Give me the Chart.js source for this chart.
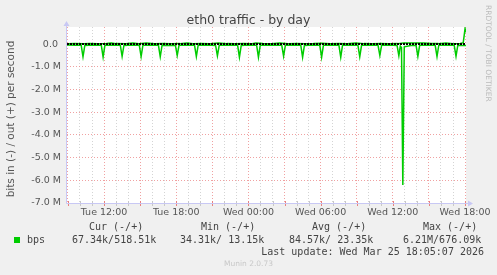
<!DOCTYPE html>
<html>
<head>
<meta charset="utf-8">
<title>eth0 traffic - by day</title>
<script src="https://cdn.jsdelivr.net/npm/chart.js@4.4.1/dist/chart.umd.min.js"></script>
<style>
  body { margin: 0; background: #f0f0f0; }
  canvas { display: block; }
</style>
</head>
<body>
<canvas id="trafficChart" width="497" height="275"></canvas>
<script>
// time axis is in hours since Tue 00:00
const xTickHours = [12, 18, 24, 30, 36, 42];
const xTickLabels = ["Tue 12:00", "Tue 18:00", "Wed 00:00", "Wed 06:00", "Wed 12:00", "Wed 18:00"];

// in (drawn negative), bits per second
const inTimes = [
  8.92, 9.6, 10.1, 10.25, 10.4, 11.0, 11.77, 11.92, 12.07, 12.8,
  13.35, 13.5, 13.65, 14.3, 14.93, 15.08, 15.23, 15.9, 16.52, 16.67,
  16.82, 17.93, 18.08, 18.23, 18.9, 19.52, 19.67, 19.82, 20.6, 21.27,
  21.42, 21.57, 22.3, 23.1, 23.25, 23.4, 24.0, 24.68, 24.83, 24.98,
  25.9, 26.77, 26.92, 27.07, 27.7, 28.35, 28.5, 28.65, 29.3, 29.93,
  30.08, 30.23, 30.9, 31.52, 31.67, 31.82, 32.5, 33.1, 33.25, 33.4,
  34.1, 34.77, 34.92, 35.07, 35.7, 36.35, 36.5, 36.62, 36.72, 36.83,
  36.95, 37.5, 37.93, 38.08, 38.23, 38.9, 39.52, 39.67, 39.82, 40.5,
  41.1, 41.25, 41.4, 41.8, 42.08
];
const inValues = [
  -45000, -50000, -55000, -560000, -60000, -45000, -50000, -570000, -55000, -40000,
  -50000, -540000, -60000, -45000, -55000, -550000, -50000, -40000, -55000, -560000,
  -50000, -60000, -500000, -55000, -45000, -55000, -550000, -50000, -40000, -60000,
  -520000, -55000, -45000, -55000, -580000, -60000, -45000, -55000, -580000, -50000,
  -40000, -55000, -530000, -50000, -45000, -55000, -580000, -60000, -40000, -55000,
  -580000, -55000, -45000, -55000, -580000, -50000, -40000, -55000, -560000, -55000,
  -45000, -55000, -500000, -50000, -45000, -60000, -520000, -90000, -150000, -6210000,
  -120000, -60000, -55000, -540000, -55000, -45000, -55000, -550000, -50000, -45000,
  -55000, -545000, -50000, -60000, -67340
];

// out (drawn positive), bits per second
const outTimes = [
  8.92, 9.6, 10.3, 10.8, 11.5, 12.2, 12.6, 13.0, 13.8, 14.4,
  14.9, 15.5, 16.2, 16.9, 17.6, 18.3, 18.9, 19.4, 20.1, 20.8,
  21.5, 22.2, 22.9, 23.6, 24.3, 24.6, 25.2, 25.9, 26.6, 27.3,
  28.0, 28.7, 29.4, 30.1, 30.8, 31.5, 32.2, 32.9, 33.6, 34.3,
  35.0, 35.7, 36.4, 36.9, 37.4, 38.0, 38.6, 39.2, 39.8, 40.4,
  41.0, 41.6, 41.85, 41.93, 42.0, 42.08
];
const outValues = [
  15000, 18000, 14000, 20000, 16000, 22000, 45000, 18000, 15000, 40000,
  17000, 50000, 16000, 20000, 14000, 18000, 45000, 16000, 20000, 15000,
  42000, 18000, 14000, 20000, 16000, 48000, 19000, 15000, 40000, 17000,
  20000, 14000, 18000, 38000, 16000, 20000, 15000, 42000, 18000, 16000,
  20000, 15000, 18000, 45000, 50000, 48000, 45000, 20000, 18000, 40000,
  16000, 22000, 60000, 380000, 676090, 518510
];

const legendHeaders = ["Cur (-/+)", "Min (-/+)", "Avg (-/+)", "Max (-/+)"];
const legendValues = ["67.34k/518.51k", "34.31k/ 13.15k", "84.57k/ 23.35k", "6.21M/676.09k"];
const lastUpdate = "Last update: Wed Mar 25 18:05:07 2026";

const green = "#00cc00";
const majorGrid = "rgba(235, 130, 130, 0.75)";
const minorGrid = "#d4d4d4";
const axisColor = "#c8c8f4";
const sans = "'DejaVu Sans', sans-serif";
const mono = "'DejaVu Sans Mono', monospace";

// frame, zero line, axes and all the rrdtool-style texts
const muninFrame = {
  id: "muninFrame",
  beforeDraw(chart) {
    const { ctx, chartArea: a } = chart;
    ctx.save();
    ctx.fillStyle = "#f0f0f0";
    ctx.fillRect(0, 0, chart.width, chart.height);
    ctx.fillStyle = "#ffffff";
    ctx.fillRect(a.left, a.top, a.right - a.left, a.bottom - a.top);
    ctx.restore();
  },
  afterDatasetsDraw(chart) {
    const { ctx, chartArea: a, scales } = chart;
    const y0 = Math.round(scales.y.getPixelForValue(0));
    ctx.save();
    ctx.strokeStyle = "#000000";
    ctx.lineWidth = 2;
    ctx.setLineDash([2, 1]);
    ctx.beginPath();
    ctx.moveTo(a.left, y0);
    ctx.lineTo(a.right, y0);
    ctx.stroke();
    ctx.restore();
  },
  afterDraw(chart) {
    const { ctx, chartArea: a, scales } = chart;
    const ax = a.left - 0.5;
    const ay = a.bottom + 0.5;
    ctx.save();

    // tick marks on the time axis
    scales.x.ticks.forEach((t) => {
      const px = Math.round(scales.x.getPixelForValue(t.value)) + 0.5;
      ctx.strokeStyle = t.value % 3 === 0 ? "#e88080" : "#c8c8c8";
      ctx.lineWidth = 1;
      ctx.beginPath();
      ctx.moveTo(px, a.bottom - 2);
      ctx.lineTo(px, a.bottom + 3);
      ctx.stroke();
    });

    // axes with arrows
    ctx.strokeStyle = axisColor;
    ctx.fillStyle = axisColor;
    ctx.lineWidth = 1;
    ctx.beginPath();
    ctx.moveTo(ax, ay);
    ctx.lineTo(ax, a.top - 4);
    ctx.moveTo(ax, ay);
    ctx.lineTo(a.right + 4, ay);
    ctx.stroke();
    ctx.beginPath();
    ctx.moveTo(ax, a.top - 6);
    ctx.lineTo(ax - 3, a.top - 1);
    ctx.lineTo(ax + 3, a.top - 1);
    ctx.closePath();
    ctx.fill();
    ctx.beginPath();
    ctx.moveTo(a.right + 7, ay);
    ctx.lineTo(a.right + 2, ay - 3);
    ctx.lineTo(a.right + 2, ay + 3);
    ctx.closePath();
    ctx.fill();

    // title
    ctx.fillStyle = "#444444";
    ctx.font = "12.5px " + sans;
    ctx.textAlign = "center";
    ctx.textBaseline = "alphabetic";
    ctx.fillText("eth0 traffic - by day", chart.width / 2, 24);

    // vertical unit label
    ctx.save();
    ctx.translate(11, (a.top + a.bottom) / 2 + 4);
    ctx.rotate(-Math.PI / 2);
    ctx.font = "10.5px " + sans;
    ctx.fillStyle = "#555555";
    ctx.textBaseline = "middle";
    ctx.fillText("bits in (-) / out (+) per second", 0, 0);
    ctx.restore();

    // rrdtool watermark on the right
    ctx.save();
    ctx.translate(488, 5);
    ctx.rotate(Math.PI / 2);
    ctx.font = "7.5px " + sans;
    ctx.fillStyle = "#bbbbbb";
    ctx.textAlign = "left";
    ctx.textBaseline = "middle";
    ctx.fillText("RRDTOOL / TOBI OETIKER", 0, 0);
    ctx.restore();

    // legend block
    ctx.font = "10px " + mono;
    ctx.fillStyle = "#444444";
    ctx.textAlign = "left";
    ctx.textBaseline = "middle";
    const headerX = [89, 201, 312, 423];
    const valueX = [72, 180, 289, 403];
    legendHeaders.forEach((h, i) => ctx.fillText(h, headerX[i], 227));
    legendValues.forEach((v, i) => ctx.fillText(v, valueX[i], 240));
    ctx.fillText("bps", 27, 240);
    ctx.textAlign = "right";
    ctx.fillText(lastUpdate, 484, 252);
    ctx.fillStyle = green;
    ctx.fillRect(14, 237, 6, 6);

    ctx.font = "7.5px " + sans;
    ctx.fillStyle = "#c8c8c8";
    ctx.textAlign = "center";
    ctx.fillText("Munin 2.0.73", chart.width / 2, 264);

    ctx.restore();
  },
};

const ctx = document.getElementById("trafficChart").getContext("2d");
new Chart(ctx, {
  type: "line",
  data: {
    datasets: [
      {
        label: "in",
        data: inTimes.map((t, i) => ({ x: t, y: inValues[i] })),
        borderColor: green,
        borderWidth: 1.5,
        pointRadius: 0,
        tension: 0,
      },
      {
        label: "out",
        data: outTimes.map((t, i) => ({ x: t, y: outValues[i] })),
        borderColor: green,
        borderWidth: 1.5,
        pointRadius: 0,
        tension: 0,
      },
    ],
  },
  options: {
    responsive: false,
    devicePixelRatio: 1,
    animation: false,
    layout: { padding: { left: 0, top: 27, right: 31, bottom: 52 } },
    plugins: {
      legend: { display: false },
      tooltip: { enabled: false },
    },
    scales: {
      x: {
        type: "linear",
        min: 8.92,
        max: 42.08,
        afterBuildTicks: (scale) => {
          const ticks = [];
          for (let h = 9; h <= 42; h++) ticks.push({ value: h });
          scale.ticks = ticks;
        },
        afterFit: (scale) => {
          scale.height = 20;
        },
        grid: {
          drawTicks: false,
          color: (c) => (c.tick && c.tick.value % 3 === 0 ? majorGrid : minorGrid),
        },
        border: { display: false, dash: [1, 2] },
        ticks: {
          autoSkip: false,
          maxRotation: 0,
          padding: 4,
          color: "#555555",
          font: { family: sans, size: 9.5 },
          callback: (value) => {
            const i = xTickHours.indexOf(value);
            return i >= 0 ? xTickLabels[i] : "";
          },
        },
      },
      y: {
        min: -7000000,
        max: 750000,
        afterBuildTicks: (scale) => {
          const ticks = [];
          for (let v = -7000000; v <= 500000; v += 500000) ticks.push({ value: v });
          scale.ticks = ticks;
        },
        afterFit: (scale) => {
          scale.width = 67;
        },
        grid: {
          drawTicks: false,
          color: (c) => (c.tick && c.tick.value % 1000000 === 0 ? majorGrid : minorGrid),
        },
        border: { display: false, dash: [1, 2] },
        ticks: {
          padding: 6,
          color: "#555555",
          font: { family: sans, size: 9.5 },
          callback: (value) => {
            if (value % 1000000 !== 0) return "";
            if (value === 0) return "0.0 ";
            return (value / 1000000).toFixed(1) + " M";
          },
        },
      },
    },
  },
  plugins: [muninFrame],
});
</script>
</body>
</html>
